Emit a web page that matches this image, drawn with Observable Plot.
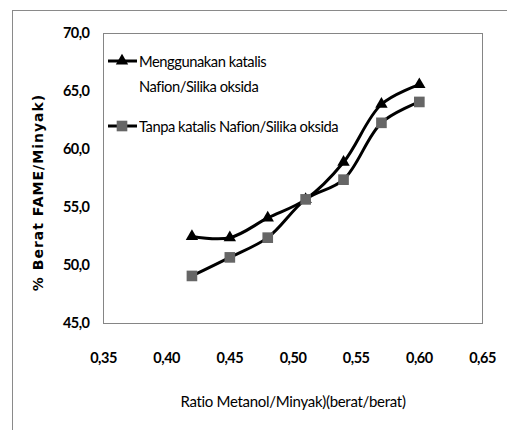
<!DOCTYPE html>
<html>
<head>
<meta charset="utf-8">
<script src="https://cdn.jsdelivr.net/npm/d3@7"></script>
<script src="https://cdn.jsdelivr.net/npm/@observablehq/plot@0.6"></script>
<style>
  html, body { margin: 0; padding: 0; background: #fff; }
  #wrap { position: relative; width: 507px; height: 430px; overflow: hidden; background: #fff; }
  #border { position: absolute; left: 12px; top: 10px; width: 600px; height: 600px;
            border-left: 1px solid #8a8a8a; border-top: 1px solid #8a8a8a; }
  #chart { position: absolute; left: 0; top: 0; }
  #chart svg { font-family: Lato, sans-serif; }
  g[aria-label="x-axis tick label"] text, g[aria-label="y-axis tick label"] text {
    font: bold 14.5px Lato, sans-serif; letter-spacing: -0.5px; fill: #000;
  }
  g[aria-label="y-axis label"] text {
    font: bold 14px "DejaVu Sans", sans-serif; letter-spacing: 1px; fill: #000;
  }
  g[aria-label="x-axis label"] text {
    font: 15px Lato, sans-serif; letter-spacing: -0.3px; fill: #000;
  }
  .legend { position: absolute; font: 16px Lato, sans-serif; letter-spacing: -0.5px; color: #000;
            line-height: 1; white-space: nowrap; transform: scaleX(0.92); transform-origin: 0 50%; }
  .sample { position: absolute; }
</style>
</head>
<body>
<div id="wrap">
  <div id="border"></div>
  <div id="chart"></div>
</div>
<script>
// Data
const ratio = [0.42, 0.45, 0.48, 0.51, 0.54, 0.57, 0.60];
const withCatalyst = [52.5, 52.4, 54.1, 55.7, 58.9, 63.9, 65.6];
const withoutCatalyst = [49.1, 50.7, 52.4, 55.7, 57.4, 62.3, 64.1];
const xTicks = [0.35, 0.40, 0.45, 0.50, 0.55, 0.60, 0.65];
const yTicks = [45, 50, 55, 60, 65, 70];
const xTitle = "Ratio Metanol/Minyak)(berat/berat)";
const yTitle = "% Berat FAME/Minyak)";
const legendLines = ["Menggunakan katalis", "Nafion/Silika oksida", "Tanpa katalis Nafion/Silika oksida"];

const dataA = ratio.map((x, i) => ({x, y: withCatalyst[i]}));
const dataB = ratio.map((x, i) => ({x, y: withoutCatalyst[i]}));

const fmt = d => (d.toFixed(d < 1 ? 2 : 1)).replace(".", ",");

const chart = Plot.plot({
  width: 507,
  height: 430,
  marginLeft: 103,
  marginRight: 25,
  marginTop: 33,
  marginBottom: 107,
  style: {background: "transparent", overflow: "visible"},
  x: {domain: [0.35, 0.65]},
  y: {domain: [45, 70]},
  marks: [
    Plot.frame({stroke: "#858585", strokeWidth: 1}),
    Plot.axisX({ticks: xTicks, tickFormat: fmt, tickSize: 0, tickPadding: 29,
      label: xTitle, labelAnchor: "center", labelOffset: 83, labelArrow: "none"}),
    Plot.axisY({ticks: yTicks, tickFormat: fmt, tickSize: 0, tickPadding: 14,
      label: yTitle, labelAnchor: "center", labelOffset: 70, labelArrow: "none"}),
    Plot.line(dataA, {x: "x", y: "y", curve: "catmull-rom", stroke: "#000", strokeWidth: 3}),
    Plot.line(dataB, {x: "x", y: "y", curve: "catmull-rom", stroke: "#000", strokeWidth: 3}),
    Plot.dot(dataA, {x: "x", y: "y", symbol: "triangle", r: 4.6, fill: "#000", stroke: "none"}),
    Plot.dot(dataB, {x: "x", y: "y", symbol: "square", r: 6, fill: "#666666", stroke: "none"})
  ]
});
document.getElementById("chart").appendChild(chart);

// shift the y title down a little, as in the reference
const yl = chart.querySelector('g[aria-label="y-axis label"] text');
if (yl) {
  const g = document.createElementNS("http://www.w3.org/2000/svg", "g");
  g.setAttribute("transform", "translate(0,14)");
  yl.parentNode.insertBefore(g, yl);
  g.appendChild(yl);
}

// Legend (HTML overlay inside the plot area)
const wrap = document.getElementById("wrap");
function sample(top, kind) {
  const ns = "http://www.w3.org/2000/svg";
  const s = document.createElementNS(ns, "svg");
  s.setAttribute("class", "sample");
  s.setAttribute("width", 32); s.setAttribute("height", 16);
  s.style.left = "106px"; s.style.top = (top - 8) + "px";
  const l = document.createElementNS(ns, "line");
  l.setAttribute("x1", 2); l.setAttribute("x2", 31); l.setAttribute("y1", 8); l.setAttribute("y2", 8);
  l.setAttribute("stroke", "#000"); l.setAttribute("stroke-width", 3);
  s.appendChild(l);
  const p = document.createElementNS(ns, "path");
  p.setAttribute("transform", "translate(16,8)");
  if (kind === "triangle") {
    p.setAttribute("d", d3.symbol(d3.symbolTriangle, Math.PI * 4.6 * 4.6)());
    p.setAttribute("fill", "#000");
  } else {
    p.setAttribute("d", d3.symbol(d3.symbolSquare, Math.PI * 6 * 6)());
    p.setAttribute("fill", "#666666");
  }
  s.appendChild(p);
  wrap.appendChild(s);
}
function label(text, left, top) {
  const d = document.createElement("div");
  d.className = "legend";
  d.textContent = text;
  d.style.left = left + "px"; d.style.top = top + "px";
  wrap.appendChild(d);
}
sample(61, "triangle");
label(legendLines[0], 139, 53);
label(legendLines[1], 139, 78);
sample(126, "square");
label(legendLines[2], 139, 118);
</script>
</body>
</html>
